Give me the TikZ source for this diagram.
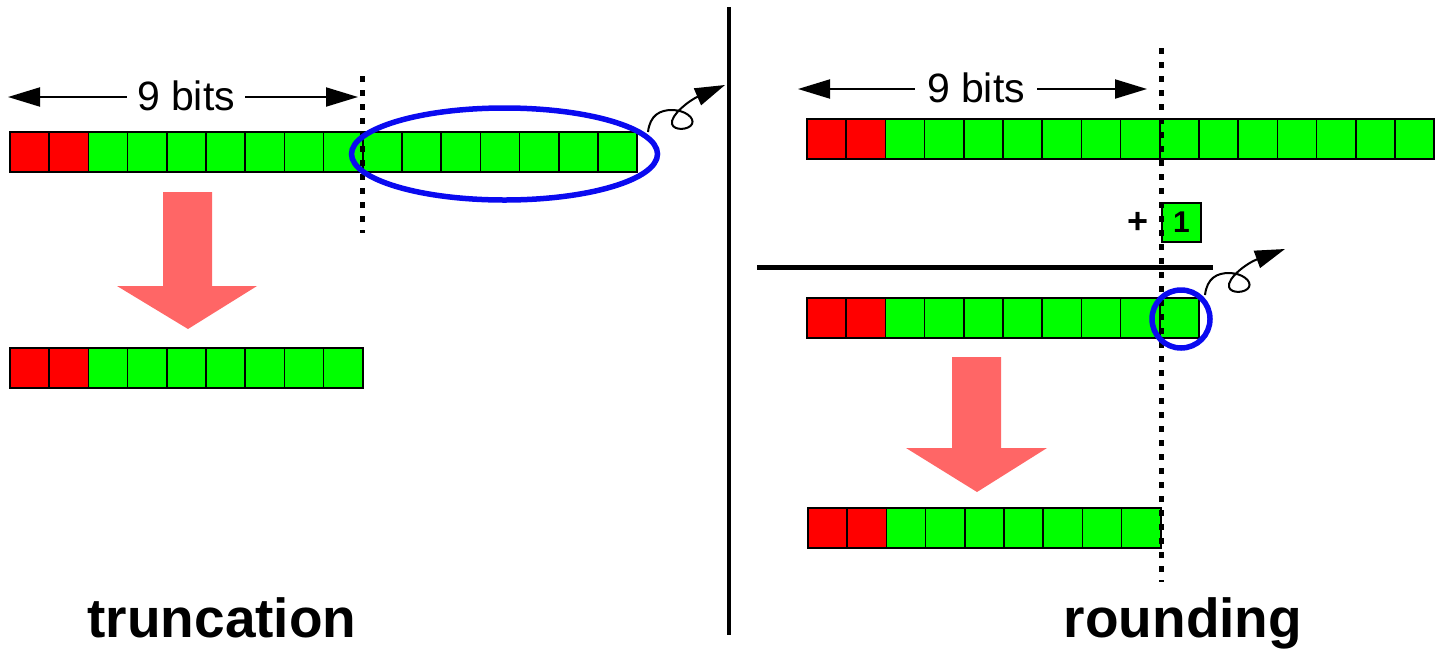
\documentclass[tikz,border=0pt]{standalone}
\usepackage{fontspec}
\setmainfont{Liberation Sans}
\usetikzlibrary{arrows.meta}

\definecolor{bitred}{RGB}{255,0,0}
\definecolor{bitgreen}{RGB}{0,255,0}
\definecolor{shiftpink}{RGB}{255,102,102}
\definecolor{markblue}{RGB}{10,10,240}

\begin{document}
\begin{tikzpicture}[x=1pt, y=-1pt,
    redbit/.style={draw=black, line width=1.5pt, fill=bitred},
    greenbit/.style={draw=black, line width=1.5pt, fill=bitgreen},
    cutline/.style={line width=5pt, dash pattern=on 6pt off 8pt},
    spanarrow/.style={line width=2pt, -{Triangle[length=32pt, width=19pt]}},
    curlarrow/.style={line width=2pt, -{Triangle[length=30pt, width=18pt]}},
    bigarrow/.style={fill=shiftpink},
    markring/.style={draw=markblue, line width=5.5pt}]
    \useasboundingbox (0,0) rectangle (1437,649);

    % Truncation: 16 bit word, then the 9 kept bits
    \foreach \i in {0,1}
        \draw[redbit] ({10+39.2*\i},132) rectangle ++(39.2,40);
    \foreach \i in {2,...,15}
        \draw[greenbit] ({10+39.2*\i},132) rectangle ++(39.2,40);
    \foreach \i in {0,1}
        \draw[redbit] ({10+39.2*\i},348) rectangle ++(39.2,40);
    \foreach \i in {2,...,8}
        \draw[greenbit] ({10+39.2*\i},348) rectangle ++(39.2,40);

    % Big arrow down
    \fill[bigarrow] (163,192) -- (212,192) -- (212,286) -- (257,286)
        -- (188,329) -- (117,286) -- (163,286) -- cycle;

    % 9 bits span
    \node[font=\fontsize{41}{49}\selectfont, inner sep=10pt] (bitsL) at (186,96) {9 bits};
    \coordinate (bitsLa) at (8,97);
    \coordinate (bitsLb) at (358,97);
    \draw[spanarrow] (bitsL.west |- bitsLa) -- (bitsLa);
    \draw[spanarrow] (bitsL.east |- bitsLb) -- (bitsLb);

    % Cut position
    \coordinate (cutLtop) at (362,76);
    \coordinate (cutLbot) at (362,233);
    \draw[cutline] (cutLtop) -- (cutLbot);

    % Dropped bits
    \draw[markring] (504.5,154) ellipse [x radius=153pt, y radius=46pt];
    \coordinate (curlL) at (648,132);
    \coordinate (curlLtip) at (725,85);
    \draw[curlarrow] (curlL) .. controls (650,115) and (660,110) .. (672,110)
        .. controls (685,110) and (695,118) .. (692,124)
        .. controls (689,130) and (674,131) .. (672,124)
        .. controls (670,115) and (690,100) .. (curlLtip);

    % Divider
    \coordinate (divTop) at (729,7);
    \coordinate (divBot) at (729,635);
    \draw[line width=4.5pt] (divTop) -- (divBot);

    % Rounding: 16 bit word
    \foreach \i in {0,1}
        \draw[redbit] ({807+39.2*\i},119) rectangle ++(39.2,40);
    \foreach \i in {2,...,15}
        \draw[greenbit] ({807+39.2*\i},119) rectangle ++(39.2,40);

    % + 1 in the first dropped bit
    \node[greenbit, minimum width=39pt, minimum height=39pt, inner sep=0pt,
        font=\bfseries\fontsize{30}{36}\selectfont] (oneBit) at (1181.5,222.5) {1};
    \node[font=\bfseries\fontsize{36}{43}\selectfont, inner sep=0pt] (plusSign) at (1138,223) {+};

    % Sum line
    \coordinate (sumL) at (757,267);
    \coordinate (sumR) at (1213,267);
    \draw[line width=5pt] (sumL) -- (sumR);

    % Sum, 10 bits
    \foreach \i in {0,1}
        \draw[redbit] ({807+39.2*\i},298) rectangle ++(39.2,40);
    \foreach \i in {2,...,9}
        \draw[greenbit] ({807+39.2*\i},298) rectangle ++(39.2,40);

    % Big arrow down
    \fill[bigarrow] (952,357) -- (1001,357) -- (1001,448) -- (1047,448)
        -- (977,492) -- (906,448) -- (952,448) -- cycle;

    % Rounded 9 bits
    \foreach \i in {0,1}
        \draw[redbit] ({808+39.2*\i},508) rectangle ++(39.2,40);
    \foreach \i in {2,...,8}
        \draw[greenbit] ({808+39.2*\i},508) rectangle ++(39.2,40);

    % 9 bits span
    \node[font=\fontsize{41}{49}\selectfont, inner sep=12pt] (bitsR) at (976,88) {9 bits};
    \coordinate (bitsRa) at (798,89);
    \coordinate (bitsRb) at (1147,89);
    \draw[spanarrow] (bitsR.west |- bitsRa) -- (bitsRa);
    \draw[spanarrow] (bitsR.east |- bitsRb) -- (bitsRb);

    % Cut position
    \coordinate (cutRtop) at (1161,48);
    \coordinate (cutRbot) at (1161,582);
    \draw[cutline] (cutRtop) -- (cutRbot);

    % Dropped bit
    \draw[markring] (1181,319) circle [radius=29pt];
    \coordinate (curlR) at (1205,295);
    \coordinate (curlRtip) at (1285,249);
    \draw[curlarrow] (curlR) .. controls (1207,278) and (1217,273) .. (1229,273)
        .. controls (1242,273) and (1252,281) .. (1249,287)
        .. controls (1246,293) and (1231,294) .. (1229,287)
        .. controls (1227,278) and (1247,263) .. (curlRtip);

    % Labels
    \node[font=\bfseries\fontsize{55}{66}\selectfont, anchor=base] (truncLabel) at (222,637) {truncation};
    \node[font=\bfseries\fontsize{55}{66}\selectfont, anchor=base] (roundLabel) at (1183,637) {rounding};
\end{tikzpicture}
\end{document}
